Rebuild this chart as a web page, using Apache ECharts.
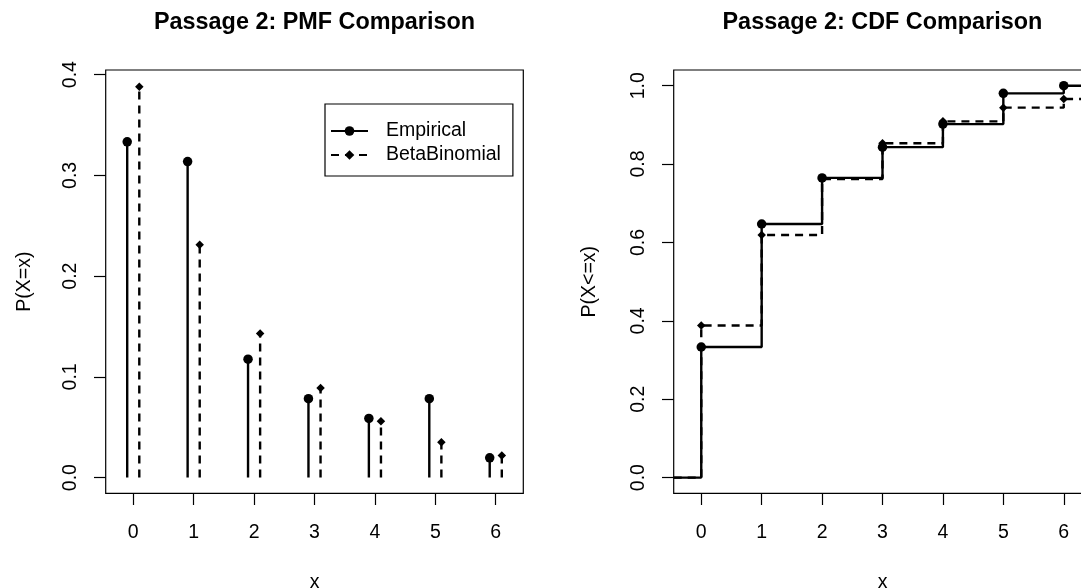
<!DOCTYPE html>
<html>
<head>
<meta charset="utf-8">
<script src="https://cdn.jsdelivr.net/npm/echarts@6/dist/echarts.min.js"></script>
<style>
html,body{margin:0;padding:0;background:#ffffff;}
#chart{width:1081px;height:588px;}
</style>
</head>
<body>
<div id="chart"></div>
<script>
// ---- data ----
const xValues = [0, 1, 2, 3, 4, 5, 6];
const empiricalPmf = [0.3333, 0.3137, 0.1176, 0.0784, 0.0588, 0.0784, 0.0196];
const betaBinomialPmf = [0.388, 0.231, 0.143, 0.089, 0.056, 0.035, 0.022];
const empiricalCdf = [0.3333, 0.6471, 0.7647, 0.8431, 0.9020, 0.9804, 1.0];
const betaBinomialCdf = [0.388, 0.619, 0.762, 0.853, 0.909, 0.944, 0.966];
const xTicks = [0, 1, 2, 3, 4, 5, 6];
const pmfYTicks = [0, 0.1, 0.2, 0.3, 0.4];
const cdfYTicks = [0, 0.2, 0.4, 0.6, 0.8, 1.0];
const titles = ['Passage 2: PMF Comparison', 'Passage 2: CDF Comparison'];
const seriesNames = ['Empirical', 'BetaBinomial'];
const axisNames = { x: 'x', pmfY: 'P(X=x)', cdfY: 'P(X<=x)' };

// ---- layout / style constants ----
const FONT = '"Liberation Sans", Arial, Helvetica, sans-serif';
const STEM_OFFSET = 0.1;
const X_MIN = -0.456, X_MAX = 6.456;
const PMF_Y_MIN = -0.01556, PMF_Y_MAX = 0.40456;
const CDF_Y_MIN = -0.04, CDF_Y_MAX = 1.04;
const GRID_TOP = 70, GRID_W = 417.6, GRID_H = 423.3;
const LW = 2.4;
const DASH = [8, 6];
const CIRCLE = 9.5, DIAMOND = 8.5;
const FS = 19.5;

function stemData(vals, off) {
  const d = [];
  xValues.forEach((x, i) => {
    d.push([x + off, 0]);
    d.push([x + off, vals[i]]);
    d.push([x + off, '-']);
  });
  return d;
}
function stepData(vals) {
  const d = [[X_MIN, 0]];
  xValues.forEach((x, i) => d.push([x, vals[i]]));
  d.push([X_MAX, vals[vals.length - 1]]);
  return d;
}

function xAxisCfg(gi) {
  return {
    gridIndex: gi, type: 'value', min: X_MIN, max: X_MAX,
    name: axisNames.x, nameLocation: 'middle', nameGap: 79,
    nameTextStyle: { fontSize: FS, color: '#000', fontFamily: FONT },
    axisLine: { show: false, onZero: false }, splitLine: { show: false },
    axisTick: { show: true, inside: false, length: 11.7, customValues: xTicks, lineStyle: { color: '#000', width: 1.2 } },
    axisLabel: { customValues: xTicks, fontSize: FS, color: '#000', fontFamily: FONT, margin: 29,
      formatter: v => String(v) }
  };
}
function yAxisCfg(gi, min, max, ticks, name, gap) {
  return {
    gridIndex: gi, type: 'value', min: min, max: max,
    name: name, nameLocation: 'middle', nameGap: gap, nameRotate: 90,
    nameTextStyle: { fontSize: FS, color: '#000', fontFamily: FONT },
    axisLine: { show: false, onZero: false }, splitLine: { show: false },
    axisTick: { show: true, inside: false, length: 11.7, customValues: ticks, lineStyle: { color: '#000', width: 1.2 } },
    axisLabel: { customValues: ticks, rotate: 90, fontSize: FS, color: '#000', fontFamily: FONT, margin: 25,
      formatter: v => Number(v).toFixed(1) }
  };
}

const chart = echarts.init(document.getElementById('chart'), null, { renderer: 'canvas' });
const option = {
  animation: false,
  backgroundColor: '#ffffff',
  textStyle: { fontFamily: FONT, color: '#000' },
  title: [
    { text: titles[0], left: 314.5, top: 11, padding: 0, textAlign: 'center',
      textStyle: { fontSize: 23.4, fontWeight: 'bold', color: '#000', fontFamily: FONT } },
    { text: titles[1], left: 882.4, top: 11, padding: 0, textAlign: 'center',
      textStyle: { fontSize: 23.4, fontWeight: 'bold', color: '#000', fontFamily: FONT } }
  ],
  legend: {
    data: seriesNames, orient: 'vertical', left: 325, top: 104,
    padding: [17, 12, 11, 5], itemGap: 4, itemWidth: 37, itemHeight: 12,
    borderColor: '#000', borderWidth: 1.2, borderRadius: 0,
    selectedMode: false,
    textStyle: { fontSize: FS, color: '#000', fontFamily: FONT, lineHeight: 20, padding: [0, 0, 0, 13] }
  },
  grid: [
    { left: 105.7, top: GRID_TOP, width: GRID_W, height: GRID_H, show: true, borderColor: '#000', borderWidth: 1.2,
      backgroundColor: 'transparent', containLabel: false, outerBoundsMode: 'none' },
    { left: 673.7, top: GRID_TOP, width: GRID_W, height: GRID_H, show: true, borderColor: '#000', borderWidth: 1.2,
      backgroundColor: 'transparent', containLabel: false, outerBoundsMode: 'none' }
  ],
  xAxis: [xAxisCfg(0), xAxisCfg(1)],
  yAxis: [
    yAxisCfg(0, PMF_Y_MIN, PMF_Y_MAX, pmfYTicks, axisNames.pmfY, 71),
    yAxisCfg(1, CDF_Y_MIN, CDF_Y_MAX, cdfYTicks, axisNames.cdfY, 74)
  ],
  series: [
    {
      name: seriesNames[0], type: 'line', xAxisIndex: 0, yAxisIndex: 0,
      data: stemData(empiricalPmf, -STEM_OFFSET), connectNulls: false,
      symbol: 'circle', showAllSymbol: true,
      symbolSize: v => (v[1] === 0 || isNaN(v[1])) ? 0 : CIRCLE,
      lineStyle: { color: '#000', width: LW, type: 'solid' },
      itemStyle: { color: '#000' }, emphasis: { disabled: true }, silent: true
    },
    {
      name: seriesNames[1], type: 'line', xAxisIndex: 0, yAxisIndex: 0,
      data: stemData(betaBinomialPmf, STEM_OFFSET), connectNulls: false,
      symbol: 'diamond', showAllSymbol: true,
      symbolSize: v => (v[1] === 0 || isNaN(v[1])) ? 0 : DIAMOND,
      lineStyle: { color: '#000', width: LW, type: DASH },
      itemStyle: { color: '#000' }, emphasis: { disabled: true }, silent: true
    },
    {
      name: seriesNames[0], type: 'line', xAxisIndex: 1, yAxisIndex: 1,
      data: stepData(empiricalCdf), step: 'end',
      symbol: 'circle', showAllSymbol: true,
      symbolSize: (v, p) => (p.dataIndex === 0 || p.dataIndex === xValues.length + 1) ? 0 : CIRCLE,
      lineStyle: { color: '#000', width: LW, type: 'solid' },
      itemStyle: { color: '#000' }, emphasis: { disabled: true }, silent: true
    },
    {
      name: seriesNames[1], type: 'line', xAxisIndex: 1, yAxisIndex: 1,
      data: stepData(betaBinomialCdf), step: 'end',
      symbol: 'diamond', showAllSymbol: true,
      symbolSize: (v, p) => (p.dataIndex === 0 || p.dataIndex === xValues.length + 1) ? 0 : DIAMOND,
      lineStyle: { color: '#000', width: LW, type: DASH },
      itemStyle: { color: '#000' }, emphasis: { disabled: true }, silent: true
    }
  ]
};
chart.setOption(option);
</script>
</body>
</html>
